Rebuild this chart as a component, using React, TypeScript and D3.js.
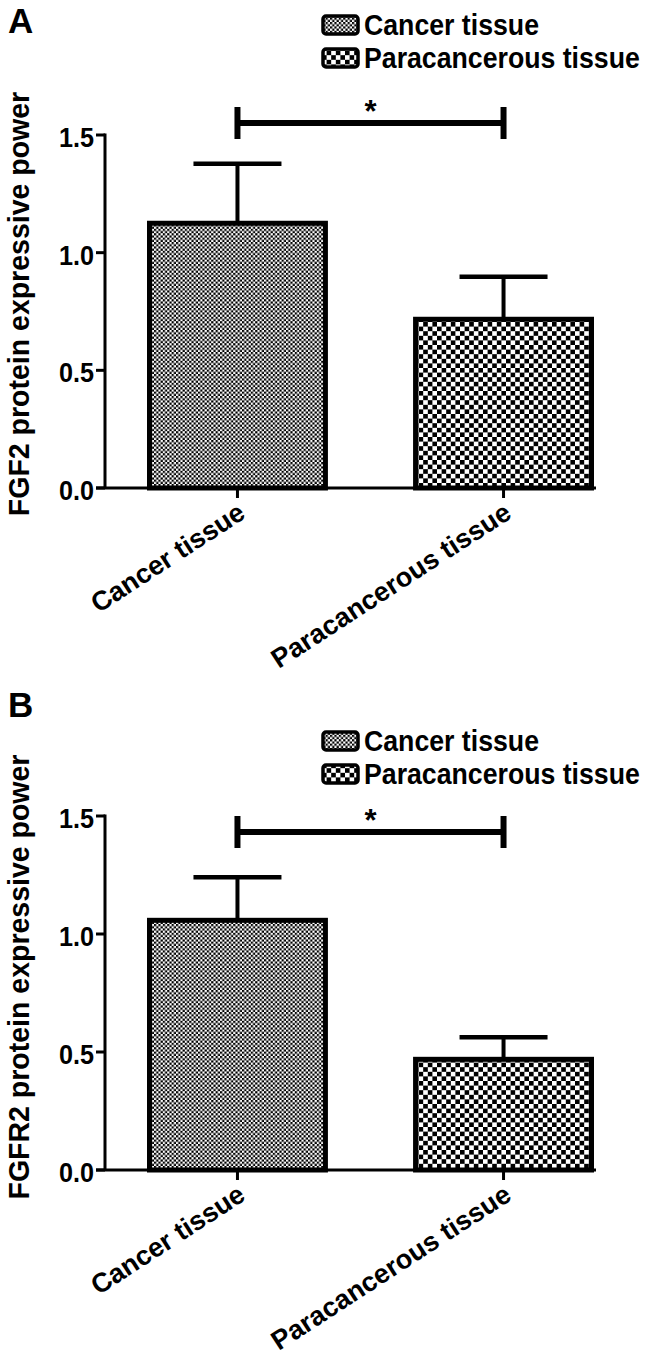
import React from "react";
import * as d3 from "d3";

const categories = ["Cancer tissue", "Paracancerous tissue"];
const fgf2Means = [1.125, 0.717];
const fgf2Upper = [1.378, 0.898];
const fgfr2Means = [1.058, 0.469];
const fgfr2Upper = [1.24, 0.563];
const yTicks = [0, 0.5, 1.0, 1.5];
const yTickLabels = ["0.0", "0.5", "1.0", "1.5"];

const FONT = "'Liberation Sans', Arial, Helvetica, sans-serif";

type PanelProps = {
  letter: string;
  letterY: number;
  legendY: number[];
  yTitle: string;
  yTitleCenter: number;
  means: number[];
  upper: number[];
  y0: number;
  y15: number;
  bracketY: number;
};

function Panel(p: PanelProps) {
  const x = d3.scaleBand<string>().domain(categories).range([147, 594]).paddingInner(0.32).paddingOuter(0);
  const y = d3.scaleLinear().domain([0, 1.5]).range([p.y0, p.y15]);
  const axisX = 105;
  const bw = x.bandwidth();
  const cx = (c: string) => (x(c) as number) + bw / 2;
  const patterns = ["url(#fineChk)", "url(#coarseChk)"];
  return (
    <g>
      <text x={8} y={p.letterY} fontFamily={FONT} fontWeight="bold" fontSize={35}>{p.letter}</text>
      {categories.map((c, i) => (
        <g key={c}>
          <rect x={323} y={p.legendY[i] - 19} width={35} height={18} rx={3} fill={patterns[i]} stroke="#000" strokeWidth={3.5} />
          <text transform={`translate(364,${p.legendY[i]}) scale(0.89,1)`} fontFamily={FONT} fontWeight="bold" fontSize={30}>{c}</text>
        </g>
      ))}
      <text transform={`translate(29,${p.yTitleCenter}) rotate(-90) scale(0.95,1)`} textAnchor="middle" fontFamily={FONT} fontWeight="bold" fontSize={30}>{p.yTitle}</text>
      {categories.map((c, i) => (
        <rect key={c} x={(x(c) as number) + 2.5} y={y(p.means[i])} width={bw - 5} height={y(0) - y(p.means[i])} fill={patterns[i]} stroke="#000" strokeWidth={5} />
      ))}
      {categories.map((c, i) => (
        <g key={c} stroke="#000">
          <line x1={cx(c)} x2={cx(c)} y1={y(p.means[i]) - 2} y2={y(p.upper[i])} strokeWidth={4} />
          <line x1={cx(c) - 44} x2={cx(c) + 44} y1={y(p.upper[i])} y2={y(p.upper[i])} strokeWidth={4.5} />
        </g>
      ))}
      <line x1={axisX} x2={axisX} y1={y(1.5) - 1.5} y2={y(0)} stroke="#000" strokeWidth={3} />
      <line x1={96} x2={596} y1={y(0)} y2={y(0)} stroke="#000" strokeWidth={3} />
      {yTicks.map((t, i) => (
        <g key={t}>
          <line x1={96} x2={axisX} y1={y(t)} y2={y(t)} stroke="#000" strokeWidth={3} />
          <text transform={`translate(94,${y(t) + 2}) scale(0.9,1)`} dy="0.36em" textAnchor="end" fontFamily={FONT} fontWeight="bold" fontSize={28}>{yTickLabels[i]}</text>
        </g>
      ))}
      {categories.map((c) => (
        <g key={c}>
          <line x1={cx(c)} x2={cx(c)} y1={y(0)} y2={y(0) + 10} stroke="#000" strokeWidth={3} />
          <text transform={`translate(${cx(c) - 1},${y(0) + 13}) rotate(-33)`} dy="0.71em" textAnchor="end" fontFamily={FONT} fontWeight="bold" fontSize={27}>{c}</text>
        </g>
      ))}
      <g stroke="#000" strokeWidth={6}>
        <line x1={cx(categories[0])} x2={cx(categories[1])} y1={p.bracketY} y2={p.bracketY} />
        <line x1={cx(categories[0])} x2={cx(categories[0])} y1={p.bracketY - 16} y2={p.bracketY + 16} />
        <line x1={cx(categories[1])} x2={cx(categories[1])} y1={p.bracketY - 16} y2={p.bracketY + 16} />
      </g>
      <text x={(cx(categories[0]) + cx(categories[1])) / 2} y={p.bracketY - 1} textAnchor="middle" fontFamily={FONT} fontWeight="bold" fontSize={31}>*</text>
    </g>
  );
}

export default function App() {
  return (
    <svg width={646} height={1360} style={{ position: "absolute", left: 0, top: 0, background: "#fff" }}>
      <defs>
        <pattern id="fineChk" patternUnits="userSpaceOnUse" width={4.4} height={4.4}>
          <rect width={4.4} height={4.4} fill="#fff" />
          <rect width={2.2} height={2.2} fill="#000" />
          <rect x={2.2} y={2.2} width={2.2} height={2.2} fill="#000" />
        </pattern>
        <pattern id="coarseChk" patternUnits="userSpaceOnUse" width={9.2} height={9.2}>
          <rect width={9.2} height={9.2} fill="#fff" />
          <rect width={4.6} height={4.6} fill="#000" />
          <rect x={4.6} y={4.6} width={4.6} height={4.6} fill="#000" />
        </pattern>
      </defs>
      <rect width={646} height={1360} fill="#fff" />
      <Panel letter="A" letterY={33} legendY={[35, 68]} yTitle="FGF2 protein expressive power" yTitleCenter={304}
        means={fgf2Means} upper={fgf2Upper} y0={488} y15={135} bracketY={123} />
      <Panel letter="B" letterY={717} legendY={[751, 784]} yTitle="FGFR2 protein expressive power" yTitleCenter={977}
        means={fgfr2Means} upper={fgfr2Upper} y0={1170} y15={816} bracketY={832} />
    </svg>
  );
}
